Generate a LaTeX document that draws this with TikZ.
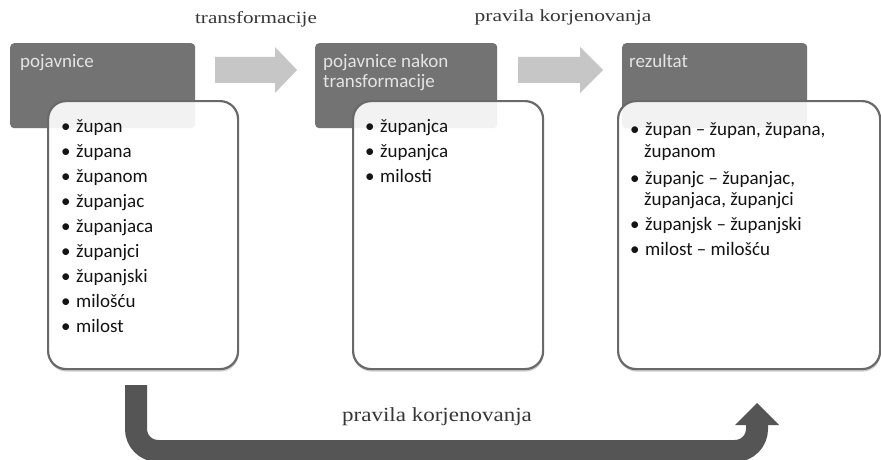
\documentclass[tikz,border=0pt]{standalone}
\usepackage{fontspec}
\setmainfont{Carlito}
\newfontfamily\seriffont{Liberation Serif}
\usetikzlibrary{shadows}
\definecolor{hdrgray}{RGB}{115,115,115}
\definecolor{boxline}{RGB}{105,105,105}
\definecolor{lightarrow}{RGB}{198,198,198}
\definecolor{darkarrow}{RGB}{85,85,85}
\definecolor{hdrtextc}{RGB}{240,240,240}
\definecolor{labelc}{RGB}{55,55,55}
\definecolor{itemc}{RGB}{20,20,20}
\newcommand{\bul}[1]{\makebox[#1][l]{•}}
\begin{document}
\begin{tikzpicture}[x=1pt,y=-1pt,
  hdrbox/.style={fill=hdrgray, rounded corners=4pt, inner sep=0pt, anchor=north west},
  hdrveil/.style={fill=hdrgray, fill opacity=0.09, rounded corners=4pt, inner sep=0pt, anchor=north west},
  listbox/.style={draw=boxline, line width=2.2pt, fill=white, rounded corners=18pt, inner sep=0pt, anchor=north west,
    drop shadow={shadow xshift=0.5pt, shadow yshift=-2.5pt, opacity=0.35, fill=black!55}},
  hdrtext/.style={text=hdrtextc, inner sep=0pt, anchor=base west, font=\fontsize{19}{20}\selectfont},
  itemtext/.style={text=itemc, inner sep=0pt, anchor=base west, font=\fontsize{19}{20}\selectfont},
  toplabel/.style={text=labelc, inner sep=0pt, anchor=base, font=\seriffont\fontsize{17}{18}\selectfont},
  botlabel/.style={text=labelc, inner sep=0pt, anchor=base, font=\seriffont\fontsize{20}{21}\selectfont},
  blockarrow/.style={fill=lightarrow},
  looparrow/.style={draw=darkarrow, line width=22pt, rounded corners=22pt},
]
\clip (0,0) rectangle (881,460);
\fill[white] (0,0) rectangle (881,460);

% header boxes
\node[hdrbox, minimum width=185pt, minimum height=85pt] (h1) at (10,43) {};
\node[hdrbox, minimum width=182pt, minimum height=85pt] (h2) at (315,43) {};
\node[hdrbox, minimum width=185pt, minimum height=85pt] (h3) at (622,43) {};

\node[hdrtext] (h1t) at (20,68) {pojavnice};
\node[hdrtext] (h2t) at (323,68) {pojavnice nakon};
\node[hdrtext] (h2u) at (323,88) {transformacije};
\node[hdrtext] (h3t) at (629,68) {rezultat};

% list boxes
\node[listbox, minimum width=190pt, minimum height=268pt] (w1) at (47,100) {};
\node[listbox, minimum width=190pt, minimum height=268pt] (w2) at (352,100) {};
\node[listbox, minimum width=262pt, minimum height=268pt] (w3) at (617,100) {};

% faint header showing through the list boxes
\node[hdrveil, minimum width=185pt, minimum height=85pt] (v1) at (10,43) {};
\node[hdrveil, minimum width=182pt, minimum height=85pt] (v2) at (315,43) {};
\node[hdrveil, minimum width=185pt, minimum height=85pt] (v3) at (622,43) {};

% items box 1
\foreach \t [count=\i from 0] in {župan,županа,županom,županjac,županjaca,županjci,županjski,milošću,milost}
  \node[itemtext] (a\i) at (61,{132+25.1*\i}) {\bul{15pt}\t};

% items box 2
\foreach \t [count=\i from 0] in {županjca,županjca,milosti}
  \node[itemtext] (b\i) at (365,{132+25.4*\i}) {\bul{15pt}\t};

% items box 3
\node[itemtext] (c0) at (630,135) {\bul{15pt}župan – župan, županа,};
\node[itemtext] (c1) at (644,157) {županom};
\node[itemtext] (c2) at (630,184) {\bul{15pt}županjc – županjac,};
\node[itemtext] (c3) at (644,205) {županjaca, županjci};
\node[itemtext] (c4) at (630,230) {\bul{15pt}županjsk – županjski};
\node[itemtext] (c5) at (630,255) {\bul{15pt}milost – milošću};

% block arrows
\coordinate (a1s) at (215,70);
\coordinate (a2s) at (518,70);
\fill[blockarrow] (a1s) ++(0,-13) -- ++(60,0) -- ++(0,-10) -- (297,70) -- (275,93) -- ++(0,-10) -- ++(-60,0) -- cycle;
\fill[blockarrow] (a2s) ++(0,-13) -- ++(62,0) -- ++(0,-10) -- (603,70) -- (580,93) -- ++(0,-10) -- ++(-62,0) -- cycle;

\node[toplabel] (l1) at (256,24) {\scalebox{1.24}[1]{transformacije}};
\node[toplabel] (l2) at (563,22) {\scalebox{1.26}[1]{pravila korjenovanja}};

% bottom loop arrow
\coordinate (bstart) at (136,385);
\coordinate (bend) at (757,424);
\draw[looparrow] (bstart) -- (136,451) -- (757,451) -- (bend);
\fill[darkarrow] (757,425) ++(-22,0) -- ++(44,0) -- (757,403) -- cycle;

\node[botlabel] (l3) at (437,421) {\scalebox{1.15}[1]{pravila korjenovanja}};
\end{tikzpicture}
\end{document}
